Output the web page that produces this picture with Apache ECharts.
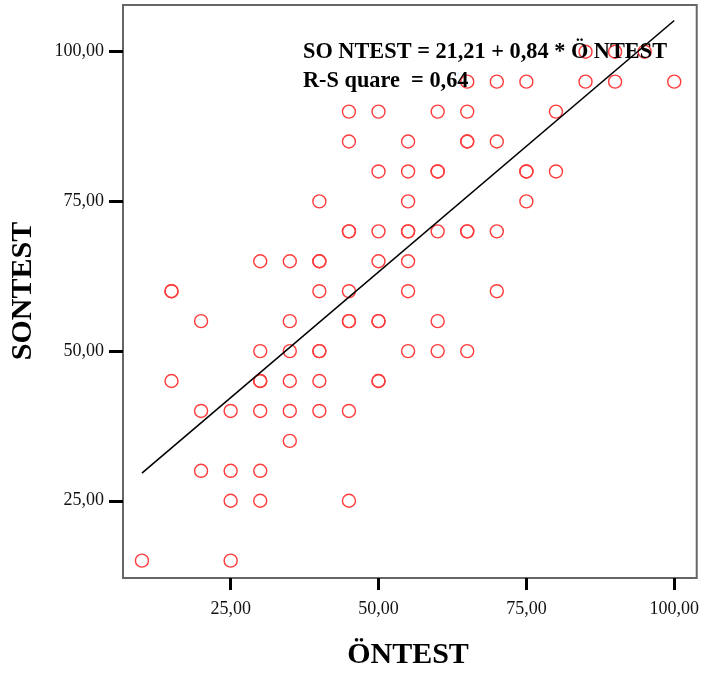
<!DOCTYPE html>
<html>
<head>
<meta charset="utf-8">
<script src="https://cdn.jsdelivr.net/npm/echarts@6/dist/echarts.min.js"></script>
<style>
html,body{margin:0;padding:0;background:#fff;}
#chart{width:702px;height:675px;}
</style>
</head>
<body>
<div id="chart"></div>
<script>
const ontest = [
  85, 90, 95,
  65, 70, 75, 85, 90, 100,
  45, 50, 60, 65, 80,
  45, 55, 65, 65, 70,
  50, 55, 60, 60, 75, 75, 80,
  40, 55, 75,
  45, 45, 50, 55, 55, 60, 65, 65, 70,
  30, 35, 40, 40, 50, 55,
  15, 15, 40, 45, 55, 70,
  20, 35, 45, 45, 50, 50, 60,
  30, 35, 40, 40, 55, 60, 65,
  15, 30, 30, 35, 40, 50, 50,
  20, 25, 30, 35, 40, 45,
  35,
  20, 25, 30,
  25, 30, 45,
  10, 25
];
const sontest = [
  100, 100, 100,
  95, 95, 95, 95, 95, 95,
  90, 90, 90, 90, 90,
  85, 85, 85, 85, 85,
  80, 80, 80, 80, 80, 80, 80,
  75, 75, 75,
  70, 70, 70, 70, 70, 70, 70, 70, 70,
  65, 65, 65, 65, 65, 65,
  60, 60, 60, 60, 60, 60,
  55, 55, 55, 55, 55, 55, 55,
  50, 50, 50, 50, 50, 50, 50,
  45, 45, 45, 45, 45, 45, 45,
  40, 40, 40, 40, 40, 40,
  35,
  30, 30, 30,
  25, 25, 25,
  15, 15
];
// Fitted line endpoints: SONTEST = 21,21 + 0,84 * ÖNTEST, drawn over ÖNTEST 10..100
const fitX = [10, 100];
const fitY = [29.61, 105.21];
const tickValues = [25, 50, 75, 100];
const equationText = 'SO NTEST = 21,21 + 0,84 * Ö NTEST';
const rsqText = 'R-S quare  = 0,64';
const xName = 'ÖNTEST';
const yName = 'SONTEST';

const points = ontest.map((v, i) => [v, sontest[i]]);
const fitLine = fitX.map((v, i) => [v, fitY[i]]);
const serif = "'Liberation Serif', 'Times New Roman', serif";
const fmt = v => v.toFixed(2).replace('.', ',');

const chart = echarts.init(document.getElementById('chart'), null, {renderer: 'canvas'});
chart.setOption({
  animation: false,
  backgroundColor: '#fff',
  grid: {left: 123, top: 5, right: 5, bottom: 97, show: true, borderColor: '#666', borderWidth: 2, backgroundColor: '#fff'},
  xAxis: {
    type: 'value', min: 6.8, max: 103.8,
    axisLine: {show: false},
    splitLine: {show: false},
    axisTick: {show: true, customValues: tickValues, length: 12, lineStyle: {color: '#000', width: 3}},
    axisLabel: {customValues: tickValues, formatter: fmt, margin: 22, fontFamily: serif, fontSize: 18, color: '#111'}
  },
  yAxis: {
    type: 'value', min: 12.1, max: 107.8,
    axisLine: {show: false},
    splitLine: {show: false},
    axisTick: {show: true, customValues: tickValues, length: 14, lineStyle: {color: '#000', width: 3}},
    axisLabel: {customValues: tickValues, formatter: fmt, margin: 19, fontFamily: serif, fontSize: 18, color: '#111'}
  },
  series: [
    {
      type: 'scatter', data: points, symbol: 'circle', symbolSize: 13,
      itemStyle: {color: 'rgba(255,255,255,0)', borderColor: '#ff3b3b', borderWidth: 1.4, opacity: 1},
      z: 2
    },
    {
      type: 'line', data: fitLine, symbol: 'none', silent: true,
      lineStyle: {color: '#000', width: 1.6}, z: 3
    }
  ],
  graphic: [
    {type: 'text', x: 303, y: 52, scaleX: 0.93, z: 10,
     style: {text: equationText, font: "bold 24px " + serif, fill: '#000', verticalAlign: 'middle', align: 'left'}},
    {type: 'text', x: 303, y: 81, scaleX: 0.93, z: 10,
     style: {text: rsqText, font: "bold 24px " + serif, fill: '#000', verticalAlign: 'middle', align: 'left'}},
    {type: 'text', x: 408, y: 655, z: 10,
     style: {text: xName, font: "bold 30px " + serif, fill: '#000', verticalAlign: 'middle', align: 'center'}},
    {type: 'text', x: 23, y: 291, rotation: Math.PI / 2, z: 10,
     style: {text: yName, font: "bold 30px " + serif, fill: '#000', verticalAlign: 'middle', align: 'center'}}
  ]
});
</script>
</body>
</html>
